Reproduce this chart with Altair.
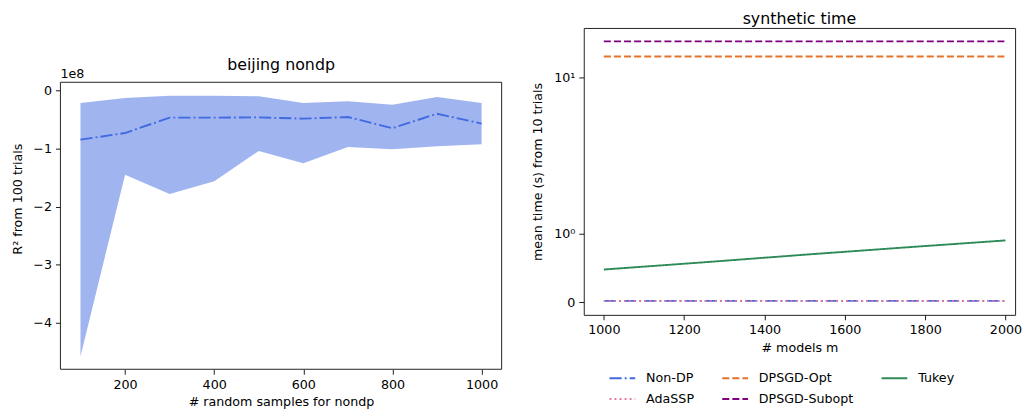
import altair as alt
import pandas as pd

FONT = "DejaVu Sans"

# ---- left panel: beijing nondp (values in units of 1e8) ----
n_samples = [100, 200, 300, 400, 500, 600, 700, 800, 900, 1000]
r2_mean = [-0.845, -0.73, -0.465, -0.465, -0.46, -0.482, -0.454, -0.647, -0.397, -0.567]
r2_upper = [-0.21, -0.124, -0.085, -0.085, -0.096, -0.21, -0.18, -0.244, -0.107, -0.21]
r2_lower = [-4.58, -1.448, -1.78, -1.56, -1.04, -1.25, -0.97, -1.01, -0.96, -0.925]
left_xticks = [200, 400, 600, 800, 1000]
left_yticks = [0, -1, -2, -3, -4]

# ---- right panel: synthetic time ----
models_m = [1000, 1250, 1500, 1750, 2000]
time_nondp = [0.02, 0.02, 0.02, 0.02, 0.02]
time_adassp = [0.02, 0.02, 0.02, 0.02, 0.02]
time_dpsgd_opt = [14.8, 14.8, 14.8, 14.8, 14.8]
time_dpsgd_subopt = [19.6, 19.6, 19.6, 19.6, 19.6]
time_tukey = [0.475, 0.58, 0.69, 0.795, 0.897]
right_xticks = [1000, 1200, 1400, 1600, 1800, 2000]

methods = ["Non-DP", "AdaSSP", "DPSGD-Opt", "DPSGD-Subopt", "Tukey"]
method_colors = {"Non-DP": "#4169E1", "AdaSSP": "#E8749A", "DPSGD-Opt": "#E5732A",
                 "DPSGD-Subopt": "#800080", "Tukey": "#2E8B57"}
method_dashes = {"Non-DP": [12.3, 3.1, 1.9, 3.1], "AdaSSP": [1.9, 3.2],
                 "DPSGD-Opt": [7.1, 3.1], "DPSGD-Subopt": [7.1, 3.1], "Tukey": [1, 0]}

df_l = pd.DataFrame({"n": n_samples, "mean": r2_mean, "hi": r2_upper, "lo": r2_lower})

series = {"Non-DP": time_nondp, "AdaSSP": time_adassp, "DPSGD-Opt": time_dpsgd_opt,
          "DPSGD-Subopt": time_dpsgd_subopt, "Tukey": time_tukey}
rows = []
for k in methods:
    for m, v in zip(models_m, series[k]):
        rows.append({"method": k, "m": m, "v": v})
df_r = pd.DataFrame(rows)

# left y scale: frame covers [-4.805, 0.145]; extra empty room above for the title
lx = alt.Scale(domain=[55, 1045], nice=False, zero=False)
ly = alt.Scale(domain=[-4.805, 1.082], nice=False, zero=False)

area = alt.Chart(df_l).mark_area(color="#4169E1", opacity=0.5).encode(
    x=alt.X("n:Q", scale=lx,
            axis=alt.Axis(values=left_xticks, format="d", title="# random samples for nondp")),
    y=alt.Y("lo:Q", scale=ly,
            axis=alt.Axis(values=left_yticks, format="d", title="R² from 100 trials",
                          titlePadding=8)),
    y2="hi:Q",
)
mean_line = alt.Chart(df_l).mark_line(color="#4169E1", strokeWidth=1.9,
                                      strokeDash=[12.3, 3.1, 1.9, 3.1]).encode(
    x="n:Q", y="mean:Q")
frame = alt.Chart(pd.DataFrame({"a": [0]})).mark_rect(
    fillOpacity=0, stroke="#222", strokeWidth=1).encode(
    x=alt.datum(55), x2=alt.datum(1045), y=alt.datum(0.145), y2=alt.datum(-4.805))
offset_txt = alt.Chart(pd.DataFrame({"t": ["1e8"]})).mark_text(
    align="left", baseline="alphabetic", dy=-4, font=FONT, fontSize=12.8, color="black").encode(
    x=alt.datum(55), y=alt.datum(0.145), text="t:N")
left_title = alt.Chart(pd.DataFrame({"t": ["beijing nondp"]})).mark_text(
    align="center", baseline="alphabetic", dy=-12, font=FONT, fontSize=16, color="black").encode(
    x=alt.datum(550), y=alt.datum(0.145), text="t:N")

left = alt.layer(area, mean_line, frame, offset_txt, left_title).properties(
    width=446, height=345, view=alt.ViewBackground(stroke="transparent"),
)

ytrans = "datum.v <= 2 ? datum.v * 1.1111 : 2 * (1.1111 + log(datum.v / 2) / LN10)"
legend_kw = dict(title=None, orient="none", legendX=25, legendY=340, columns=3,
                 symbolType="stroke", symbolSize=676, symbolStrokeWidth=2,
                 labelFont=FONT, labelFontSize=12.8, labelColor="black",
                 columnPadding=24, rowPadding=-7, labelOffset=10, padding=0)

right = alt.Chart(df_r).transform_calculate(t=ytrans).mark_line(strokeWidth=1.9).encode(
    x=alt.X("m:Q", scale=alt.Scale(domain=[950, 2023.9], nice=False, zero=False),
            axis=alt.Axis(values=right_xticks, format="d", title="# models m")),
    y=alt.Y("t:Q", scale=alt.Scale(domain=[-0.203, 4.42], nice=False, zero=False),
            axis=alt.Axis(values=[0, 1.1111, 3.6204],
                          labelExpr="datum.value < 0.5 ? '0' : datum.value < 2 ? '10⁰' : '10¹'",
                          title="mean time (s) from 10 trials", titlePadding=9)),
    color=alt.Color("method:N",
                    scale=alt.Scale(domain=methods, range=[method_colors[k] for k in methods]),
                    legend=alt.Legend(**legend_kw)),
    strokeDash=alt.StrokeDash("method:N",
                              scale=alt.Scale(domain=methods, range=[method_dashes[k] for k in methods]),
                              legend=alt.Legend(**legend_kw)),
).properties(
    width=436, height=290,
    title=alt.Title("synthetic time", fontSize=16, font=FONT, fontWeight="normal", offset=1),
)

chart = alt.hconcat(left, right, spacing=29).resolve_legend(
    color="independent", strokeDash="independent"
).properties(
    padding={"left": 3, "top": 0, "right": 0, "bottom": 0}
).configure_axis(
    labelFont=FONT, labelFontSize=12.8, labelColor="black",
    titleFont=FONT, titleFontSize=12.8, titleFontWeight="normal", titleColor="black",
    tickColor="black", tickSize=5, tickWidth=0.9, domain=False, grid=False,
    labelPadding=4, titlePadding=5,
).configure_view(stroke="#222", strokeWidth=1).configure_title(color="black")

chart.save("out.html", embed_options={"renderer": "svg", "actions": False})
